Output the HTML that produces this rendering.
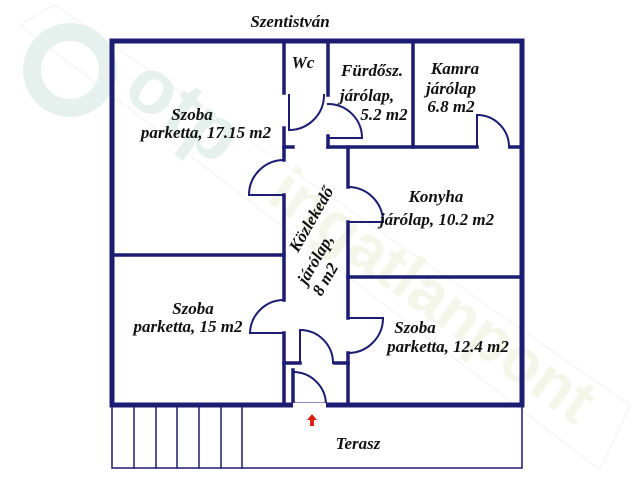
<!DOCTYPE html>
<html><head><meta charset="utf-8"><style>
html,body{margin:0;padding:0;background:#fff;width:634px;height:480px;overflow:hidden}
svg{display:block}
text{font-family:"Liberation Serif",serif;font-style:italic;font-weight:bold;font-size:17px;fill:#111}
</style></head><body>
<svg width="634" height="480" viewBox="0 0 634 480">
<g opacity="0.11">
<polygon points="20,25 55,5 630,405 600,470" fill="none" stroke="#888" stroke-width="1"/>
<circle cx="70" cy="70" r="38" fill="none" stroke="#2a8a6a" stroke-width="18"/>
<text x="120" y="95" transform="rotate(36 120 95)" style="font-family:'Liberation Sans',sans-serif;font-style:normal;font-size:78px;fill:#2a8a6a">otp</text>
<text x="265" y="200" transform="rotate(36 265 200)" style="font-family:'Liberation Sans',sans-serif;font-style:normal;font-size:64px;fill:#9ab83a">ingatlanpont</text>
</g>
<g stroke="#1c1c72" fill="none" stroke-linecap="square">
<rect x="112" y="41" width="410" height="364" stroke-width="5"/>
<g stroke-width="1.5">
<polyline points="112,405 112,468 522,468 522,405"/>
<line x1="134" y1="405" x2="134" y2="468"/><line x1="156" y1="405" x2="156" y2="468"/>
<line x1="177" y1="405" x2="177" y2="468"/><line x1="199" y1="405" x2="199" y2="468"/>
<line x1="221" y1="405" x2="221" y2="468"/><line x1="242" y1="405" x2="242" y2="468"/>
</g>
<g stroke-width="3.5">
<line x1="284" y1="41" x2="284" y2="93"/>
<line x1="284" y1="128" x2="284" y2="160"/>
<line x1="284" y1="195" x2="284" y2="300"/>
<line x1="284" y1="333" x2="284" y2="405"/>
<line x1="328" y1="41" x2="328" y2="95"/>
<line x1="328" y1="136" x2="328" y2="147"/>
<line x1="413" y1="41" x2="413" y2="147"/>
<line x1="284" y1="147" x2="293" y2="147"/>
<line x1="328" y1="147" x2="477" y2="147"/>
<line x1="510" y1="147" x2="522" y2="147"/>
<line x1="348" y1="147" x2="348" y2="187"/>
<line x1="348" y1="222" x2="348" y2="318"/>
<line x1="348" y1="353" x2="348" y2="405"/>
<line x1="112" y1="255" x2="284" y2="255"/>
<line x1="348" y1="277" x2="522" y2="277"/>
<line x1="284" y1="363" x2="300" y2="363"/>
<line x1="335" y1="363" x2="348" y2="363"/>
<line x1="293" y1="370" x2="293" y2="405"/>
</g>
<g stroke-width="2">
<line x1="289" y1="95" x2="289" y2="130"/><path d="M289,130 A35,35 0 0 0 324,95"/>
<line x1="328" y1="138" x2="362" y2="138"/><path d="M362,138 A34,34 0 0 0 328,104"/>
<line x1="477" y1="147" x2="477" y2="115"/><path d="M477,115 A32,32 0 0 1 509,147"/>
<line x1="249" y1="195" x2="284" y2="195"/><path d="M284,160 A35,35 0 0 0 249,195"/>
<line x1="348" y1="222" x2="383" y2="222"/><path d="M348,187 A35,35 0 0 1 383,222"/>
<line x1="250" y1="333" x2="284" y2="333"/><path d="M284,300 A34,34 0 0 0 250,333"/>
<line x1="348" y1="318" x2="383" y2="318" stroke-dasharray="3,2"/><path d="M383,318 A35,35 0 0 1 348,353"/>
<line x1="300" y1="363" x2="300" y2="330"/><path d="M300,330 A33,33 0 0 1 333,363"/>
<line x1="293" y1="405" x2="293" y2="372"/><path d="M293,372 A33,33 0 0 1 326,405"/>
</g>
</g>
<rect x="293" y="403" width="33" height="5" fill="#fff"/>
<path d="M312,414 l-5,6 h3 v6 h4 v-6 h3 z" fill="#d21"/>
<text x="290" y="27" text-anchor="middle">Szentistván</text>
<text x="303" y="68" text-anchor="middle">Wc</text>
<text x="372" y="76" text-anchor="middle">Fürdősz.</text>
<text x="367" y="101" text-anchor="middle">járólap,</text>
<text x="384" y="120" text-anchor="middle">5.2 m2</text>
<text x="455" y="74" text-anchor="middle">Kamra</text>
<text x="451" y="94" text-anchor="middle">járólap</text>
<text x="451" y="112" text-anchor="middle">6.8 m2</text>
<text x="192" y="120" text-anchor="middle">Szoba</text>
<text x="206" y="138" text-anchor="middle">parketta, 17.15 m2</text>
<text x="436" y="202" text-anchor="middle">Konyha</text>
<text x="437" y="225" text-anchor="middle">járólap, 10.2 m2</text>
<text x="193" y="314" text-anchor="middle">Szoba</text>
<text x="188" y="332" text-anchor="middle">parketta, 15 m2</text>
<text x="415" y="333" text-anchor="middle">Szoba</text>
<text x="448" y="352" text-anchor="middle">parketta, 12.4 m2</text>
<text x="358" y="449" text-anchor="middle">Terasz</text>
<text x="316" y="222" text-anchor="middle" transform="rotate(-60 316 222)">Közlekedő</text>
<text x="320" y="262" text-anchor="middle" transform="rotate(-60 320 262)">járólap,</text>
<text x="330" y="282" text-anchor="middle" transform="rotate(-60 330 282)">8 m2</text>
</svg>
</body></html>
